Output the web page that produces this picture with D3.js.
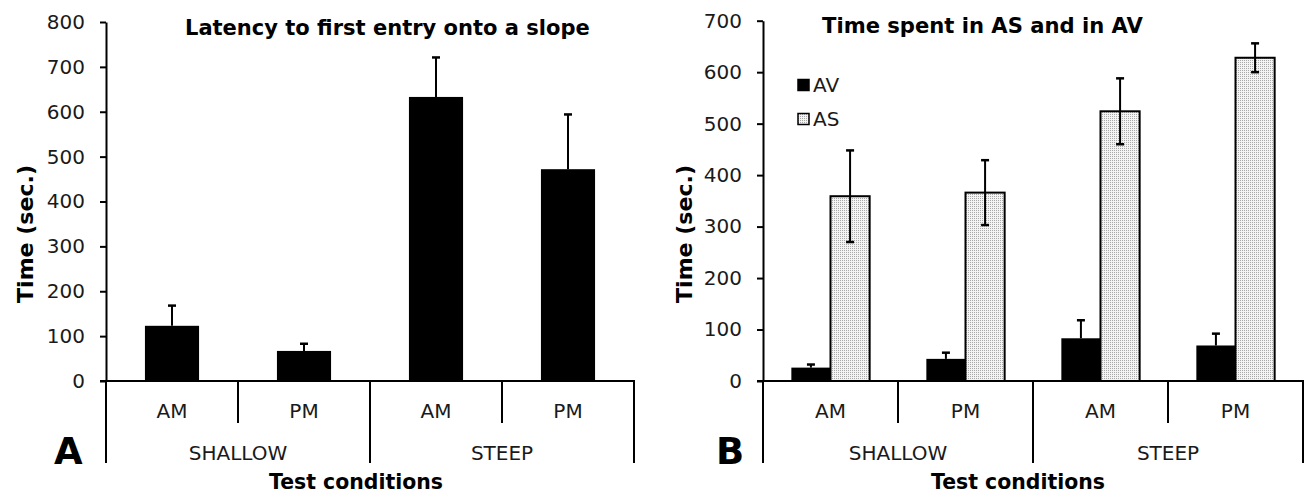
<!DOCTYPE html>
<html><head><meta charset="utf-8">
<script src="https://cdnjs.cloudflare.com/ajax/libs/d3/7.8.5/d3.min.js"></script>
<style>
html,body{margin:0;padding:0;background:#fff;}
svg{display:block;}
text{font-family:"DejaVu Sans",Verdana,sans-serif;}
</style></head>
<body>
<svg id="chart" width="1306" height="495"></svg>
<script>
// ---- data ----
const categories = ["AM", "PM", "AM", "PM"];
const groups = ["SHALLOW", "STEEP"];
const latencyMean = [123, 67, 633, 472];
const latencyErr = [45, 16, 88, 122];
const avMean = [26, 43, 83, 69];
const avErr = [6, 12, 35, 23];
const asMean = [359, 366, 524, 628];
const asErr = [89, 63, 64, 28];
const seriesNames = ["AV", "AS"];
const leftTicks = [0, 100, 200, 300, 400, 500, 600, 700, 800];
const rightTicks = [0, 100, 200, 300, 400, 500, 600, 700];
const titleA = "Latency to first entry onto a slope";
const titleB = "Time spent in AS and in AV";
const yTitle = "Time (sec.)";
const xTitle = "Test conditions";

const svg = d3.select("#chart");
svg.append("rect").attr("width", 1306).attr("height", 495).attr("fill", "#fff");

// stipple pattern
const defs = svg.append("defs");
const pat = defs.append("pattern").attr("id", "stipple").attr("patternUnits", "userSpaceOnUse")
  .attr("width", 2).attr("height", 2);
pat.append("rect").attr("width", 2).attr("height", 2).attr("fill", "#f4f4f4");
pat.append("rect").attr("width", 1).attr("height", 1).attr("fill", "#a8a8a8");

function fitText(sel, width) {
  const node = sel.node();
  const fs = parseFloat(sel.attr("font-size"));
  const len = node.getComputedTextLength();
  if (len > 0) sel.attr("font-size", (fs * width / len).toFixed(2));
}

function drawPanel(opts) {
  const g = svg.append("g");
  const x = d3.scaleBand().domain(d3.range(categories.length)).range(opts.xRange).padding(0);
  const y = d3.scaleLinear().domain(opts.yDomain).range(opts.yRange);
  const x0 = opts.xRange[0], x1 = opts.xRange[1], y0 = y(0);
  const bottom = y0 + 82, mid = y0 + 42;

  // y axis
  const ax = g.append("g").attr("transform", `translate(${x0},0)`)
    .call(d3.axisLeft(y).tickValues(opts.ticks).tickSize(6).tickSizeOuter(0).tickPadding(15));
  ax.selectAll("path,line").attr("stroke", "#000").attr("stroke-width", 2);
  ax.selectAll("text").attr("font-size", 20).attr("fill", "#1a1a1a")
    .attr("font-family", "DejaVu Sans, Verdana, sans-serif");

  // bars
  opts.drawBars(g, x, y);

  // x axis baseline and category separators
  g.append("line").attr("x1", x0 - 6).attr("x2", x1 + 1).attr("y1", y0).attr("y2", y0)
    .attr("stroke", "#000").attr("stroke-width", 2);
  const seps = d3.range(categories.length + 1);
  g.selectAll(".sep").data(seps).enter().append("line")
    .attr("x1", i => i < categories.length ? x(i) : x1)
    .attr("x2", i => i < categories.length ? x(i) : x1)
    .attr("y1", y0).attr("y2", i => i % 2 === 0 ? bottom : mid)
    .attr("stroke", "#000").attr("stroke-width", 2);

  // category labels
  g.selectAll(".cat").data(categories).enter().append("text")
    .attr("x", (d, i) => x(i) + x.bandwidth() / 2).attr("y", y0 + 37)
    .attr("text-anchor", "middle").attr("font-size", 20).attr("fill", "#1a1a1a").text(d => d);
  g.selectAll(".grp").data(groups).enter().append("text")
    .attr("x", (d, i) => x(i * 2) + x.bandwidth()).attr("y", y0 + 79)
    .attr("text-anchor", "middle").attr("font-size", 20).attr("fill", "#1a1a1a").text(d => d);

  // x title
  const xt = g.append("text").attr("x", opts.xTitleX).attr("y", 489).attr("text-anchor", "middle")
    .attr("font-size", 19).attr("font-weight", "bold").attr("fill", "#000").text(xTitle);
  fitText(xt, 174);

  // y title
  const yt = g.append("text").attr("transform", `translate(${opts.yTitleX},234) rotate(-90)`)
    .attr("text-anchor", "middle").attr("font-size", 19).attr("font-weight", "bold")
    .attr("fill", "#000").text(yTitle);
  fitText(yt, 138);

  // panel title
  const t = g.append("text").attr("x", opts.titleX).attr("y", opts.titleY)
    .attr("font-size", 18).attr("font-weight", "bold").attr("fill", "#000").text(opts.title);
  fitText(t, opts.titleW);

  // panel letter
  g.append("text").attr("x", opts.letterX).attr("y", 464).attr("font-size", 37)
    .attr("font-weight", "bold").attr("fill", "#000").text(opts.letter);
  return { x, y };
}

function errBar(g, cx, yTop, yBot, capBottom) {
  g.append("line").attr("x1", cx).attr("x2", cx).attr("y1", yTop).attr("y2", yBot)
    .attr("stroke", "#000").attr("stroke-width", 2);
  g.append("line").attr("x1", cx - 4).attr("x2", cx + 4).attr("y1", yTop).attr("y2", yTop)
    .attr("stroke", "#000").attr("stroke-width", 2.5);
  if (capBottom) g.append("line").attr("x1", cx - 4).attr("x2", cx + 4).attr("y1", yBot).attr("y2", yBot)
    .attr("stroke", "#000").attr("stroke-width", 2.5);
}

// Panel A
drawPanel({
  xRange: [106, 634], yDomain: [0, 800], yRange: [381, 22], ticks: leftTicks,
  title: titleA, titleX: 185, titleY: 35, titleW: 405,
  letter: "A", letterX: 54, xTitleX: 356, yTitleX: 33,
  drawBars: (g, x, y) => {
    const bw = x.bandwidth() * 0.41;
    latencyMean.forEach((m, i) => {
      const cx = x(i) + x.bandwidth() / 2;
      errBar(g, cx, y(m + latencyErr[i]), y(m), false);
      g.append("rect").attr("x", cx - bw / 2).attr("width", bw)
        .attr("y", y(m)).attr("height", y(0) - y(m)).attr("fill", "#000");
    });
  }
});

// Panel B
drawPanel({
  xRange: [763, 1303], yDomain: [0, 700], yRange: [381, 20.7], ticks: rightTicks,
  title: titleB, titleX: 822, titleY: 33, titleW: 321,
  letter: "B", letterX: 716, xTitleX: 1018, yTitleX: 692,
  drawBars: (g, x, y) => {
    const bw = x.bandwidth() * 0.29;
    avMean.forEach((m, i) => {
      const cx = x(i) + x.bandwidth() / 2;
      errBar(g, cx - bw / 2, y(m + avErr[i]), y(m), false);
      g.append("rect").attr("x", cx - bw).attr("width", bw)
        .attr("y", y(m)).attr("height", y(0) - y(m)).attr("fill", "#000");
    });
    asMean.forEach((m, i) => {
      const cx = x(i) + x.bandwidth() / 2;
      g.append("rect").attr("x", cx).attr("width", bw)
        .attr("y", y(m)).attr("height", y(0) - y(m)).attr("fill", "url(#stipple)")
        .attr("stroke", "#000").attr("stroke-width", 2);
      errBar(g, cx + bw / 2, y(m + asErr[i]), y(m - asErr[i]), true);
    });
    // legend
    const lg = g.append("g");
    seriesNames.forEach((s, k) => {
      const yy = 85 + k * 34;
      lg.append("rect").attr("x", 798).attr("y", yy - 5.5).attr("width", 11).attr("height", 11)
        .attr("fill", k === 0 ? "#000" : "url(#stipple)").attr("stroke", "#000").attr("stroke-width", 1.5);
      lg.append("text").attr("x", 813).attr("y", yy + 7).attr("font-size", 20)
        .attr("fill", "#1a1a1a").text(s);
    });
  }
});
</script>
</body></html>
